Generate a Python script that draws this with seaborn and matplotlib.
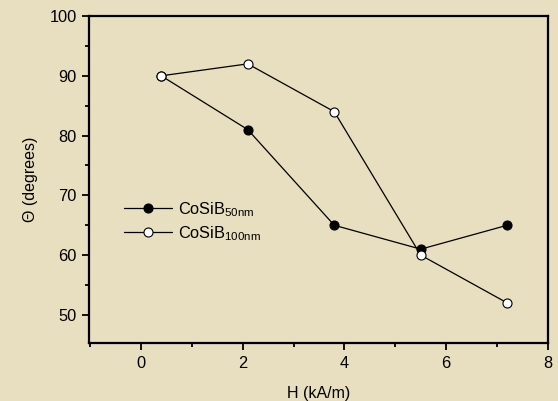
import matplotlib.pyplot as plt
import pandas as pd
import seaborn as sns
from matplotlib.ticker import MultipleLocator

# values
field_h = [0.4, 2.1, 3.8, 5.5, 7.2]
theta_50nm = [90, 81, 65, 61, 65]
theta_100nm = [90, 92, 84, 60, 52]
x_ticks = [0, 2, 4, 6, 8]
y_ticks = [50, 60, 70, 80, 90, 100]

BG = "#e7dfc0"

df = pd.concat(
    [
        pd.DataFrame({"H": field_h, "theta": theta_50nm, "series": "50nm"}),
        pd.DataFrame({"H": field_h, "theta": theta_100nm, "series": "100nm"}),
    ]
)

sns.set_theme(style="ticks")
plt.rcParams["font.family"] = ["Liberation Sans", "DejaVu Sans"]
plt.rcParams["mathtext.fontset"] = "custom"
plt.rcParams["mathtext.rm"] = "Liberation Sans"
plt.rcParams["text.color"] = "black"
plt.rcParams["axes.labelcolor"] = "black"

fig = plt.figure(figsize=(5.58, 4.01), dpi=100, facecolor=BG)
ax = fig.add_axes([0.1595, 0.1446, 0.8225, 0.8154])
ax.set_facecolor(BG)

sns.lineplot(
    data=df[df["series"] == "50nm"], x="H", y="theta", ax=ax,
    color="black", linewidth=0.9, marker="o", markersize=6.5,
    markerfacecolor="black", markeredgecolor="black", markeredgewidth=0.8,
    label=r"CoSiB$_{\mathregular{50nm}}$",
)
sns.lineplot(
    data=df[df["series"] == "100nm"], x="H", y="theta", ax=ax,
    color="black", linewidth=0.9, marker="o", markersize=6.5,
    markerfacecolor="white", markeredgecolor="black", markeredgewidth=0.8,
    label=r"CoSiB$_{\mathregular{100nm}}$",
)

ax.set_xlim(-1.02, 8)
ax.set_ylim(45.3, 100)
ax.set_xticks(x_ticks)
ax.set_yticks(y_ticks)
ax.xaxis.set_minor_locator(MultipleLocator(1))
ax.yaxis.set_minor_locator(MultipleLocator(5))
ax.tick_params(which="major", length=5, width=1.3, labelsize=11.8,
               color="black", labelcolor="black", pad=4)
ax.tick_params(which="minor", length=3, width=1.3, color="black")
for s in ax.spines.values():
    s.set_linewidth(1.6)
    s.set_color("black")

ax.set_xlabel("H (kA/m)", fontsize=11.5, labelpad=11)
ax.set_ylabel("Θ (degrees)", fontsize=11.5, labelpad=8)

ax.legend(
    loc="center left", bbox_to_anchor=(0.045, 0.372), frameon=False,
    fontsize=11.8, handlelength=2.9, handletextpad=0.35, labelspacing=0.3,
)

fig.savefig("out.png", dpi=100, facecolor=BG)
